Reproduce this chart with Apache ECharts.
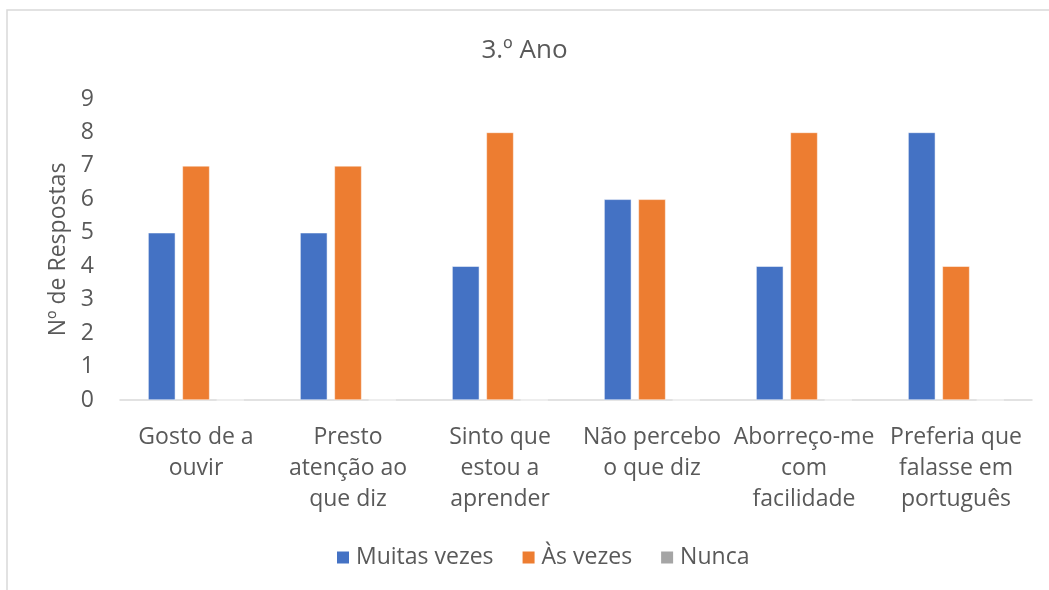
<!DOCTYPE html>
<html>
<head>
<meta charset="utf-8">
<script src="https://cdn.jsdelivr.net/npm/echarts@6/dist/echarts.min.js"></script>
<style>
  html, body { margin: 0; padding: 0; background: #fff; }
  #chart { width: 1049px; height: 590px; }
</style>
</head>
<body>
<div id="chart"></div>
<script>
const categories = [
  'Gosto de a\nouvir',
  'Presto\natenção ao\nque diz',
  'Sinto que\nestou a\naprender',
  'Não percebo\no que diz',
  'Aborreço-me\ncom\nfacilidade',
  'Preferia que\nfalasse em\nportuguês'
];
const muitasVezes = [5, 5, 4, 6, 4, 8];
const asVezes = [7, 7, 8, 6, 8, 4];
const nunca = [0, 0, 0, 0, 0, 0];
const yTicks = [0, 9, 1]; // min, max, interval

const font = '"Open Sans", sans-serif';
const textColor = '#595959';

const chart = echarts.init(document.getElementById('chart'));

const barStyle = (color) => ({
  type: 'bar',
  barGap: '26%',
  barCategoryGap: '37%',
  itemStyle: { color: color, borderColor: '#fff', borderWidth: 0.5 }
});

chart.setOption({
  animation: false,
  textStyle: { fontFamily: font },
  graphic: [{
    type: 'rect',
    shape: { x: 7, y: 10, width: 1100, height: 700 },
    style: { fill: 'none', stroke: '#d9d9d9', lineWidth: 1.5 },
    silent: true
  }],
  title: {
    text: '3.º Ano',
    left: 'center',
    top: 33,
    textStyle: { fontFamily: font, fontSize: 26, fontWeight: 'normal', color: textColor }
  },
  legend: {
    left: 330,
    top: 541,
    icon: 'rect',
    itemWidth: 14,
    itemHeight: 14,
    itemGap: 27,
    textStyle: { fontFamily: font, fontSize: 23, color: textColor, padding: [0, 0, 0, 1] }
  },
  grid: { left: 120, right: 17, top: 99, bottom: 190 },
  xAxis: {
    type: 'category',
    data: categories,
    axisLine: { lineStyle: { color: '#d9d9d9', width: 1.5 } },
    axisTick: { show: false },
    axisLabel: {
      interval: 0,
      margin: 22,
      fontFamily: font,
      fontSize: 23,
      lineHeight: 31,
      color: textColor
    }
  },
  yAxis: {
    type: 'value',
    min: yTicks[0],
    max: yTicks[1],
    interval: yTicks[2],
    name: 'Nº de Respostas',
    nameLocation: 'middle',
    nameGap: 50,
    nameTextStyle: { fontFamily: font, fontSize: 23, color: textColor },
    axisLine: { show: false },
    axisTick: { show: false },
    splitLine: { show: false },
    axisLabel: { margin: 26, fontFamily: font, fontSize: 23, color: textColor }
  },
  series: [
    Object.assign(barStyle('#4472c4'), { name: 'Muitas vezes', data: muitasVezes }),
    Object.assign(barStyle('#ed7d31'), { name: 'Às vezes', data: asVezes }),
    Object.assign(barStyle('#a5a5a5'), { name: 'Nunca', data: nunca })
  ]
});
</script>
</body>
</html>
